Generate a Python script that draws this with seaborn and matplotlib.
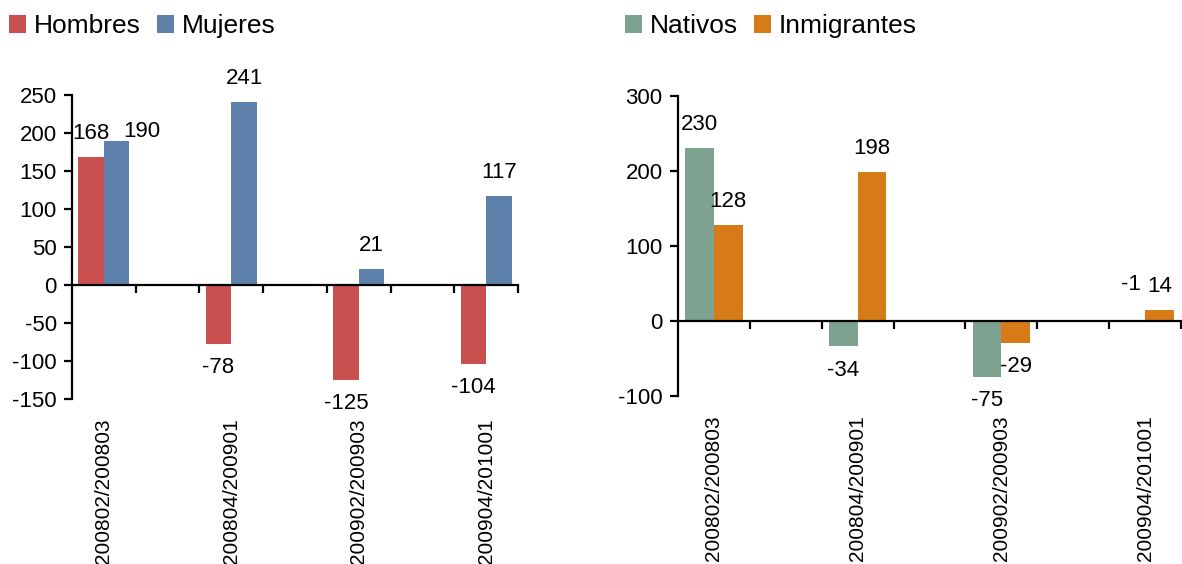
import matplotlib
matplotlib.use("Agg")
import numpy as np
import pandas as pd
import seaborn as sns
from matplotlib import pyplot as plt

# data
periods = ["200802/200803", "200804/200901", "200902/200903", "200904/201001"]
hombres = [168, -78, -125, -104]
mujeres = [190, 241, 21, 117]
nativos = [230, -34, -75, -1]
inmigrantes = [128, 198, -29, 14]

# empty slots between the periods, as in the original workbook
slots = [periods[0], "gap1", periods[1], "gap2", periods[2], "gap3", periods[3]]

sexo = pd.DataFrame(
    {
        "periodo": periods * 2,
        "grupo": ["Hombres"] * 4 + ["Mujeres"] * 4,
        "valor": hombres + mujeres,
    }
)
origen = pd.DataFrame(
    {
        "periodo": periods * 2,
        "grupo": ["Nativos"] * 4 + ["Inmigrantes"] * 4,
        "valor": nativos + inmigrantes,
    }
)

sns.set_theme(style="white")
plt.rcParams["font.family"] = ["Liberation Sans", "DejaVu Sans"]
plt.rcParams["axes.unicode_minus"] = False
plt.rcParams["text.color"] = "black"
plt.rcParams["axes.edgecolor"] = "black"
plt.rcParams["xtick.color"] = "black"
plt.rcParams["ytick.color"] = "black"

FS = 16
FS_CAT = 15

fig = plt.figure(figsize=(11.82, 5.64), dpi=100)
ax1 = fig.add_axes([0.0609, 0.2926, 0.3773, 0.539])
ax2 = fig.add_axes([0.5736, 0.2979, 0.4255, 0.5319])


def draw(ax, df, hue_order, palette, ylim, step, legend_x, nudges):
    sns.barplot(
        data=df,
        x="periodo",
        y="valor",
        hue="grupo",
        order=slots,
        hue_order=hue_order,
        palette=palette,
        errorbar=None,
        width=0.8,
        saturation=1,
        linewidth=0,
        ax=ax,
    )
    ax.set_xlim(-0.5, len(slots) - 0.5)
    ax.set_ylim(*ylim)
    ax.set_yticks(np.arange(ylim[0], ylim[1] + 1, step))
    ax.set_xlabel("")
    ax.set_ylabel("")

    # axis line through zero with ticks between categories
    for side in ("top", "right"):
        ax.spines[side].set_visible(False)
    ax.spines["bottom"].set_position(("data", 0))
    ax.spines["bottom"].set_linewidth(1.6)
    ax.spines["left"].set_linewidth(1.6)
    ax.set_xticks(np.arange(0.5, len(slots), 1), minor=True)
    ax.tick_params(axis="x", which="major", length=0, labelbottom=False)
    ax.tick_params(
        axis="x", which="minor", bottom=True, length=6, width=1.6, direction="out"
    )
    ax.tick_params(
        axis="y", left=True, length=6, width=1.6, direction="out", labelsize=FS, pad=5
    )

    # category labels at the bottom
    sec = ax.secondary_xaxis("bottom")
    sec.set_xticks(
        range(len(slots)),
        labels=[s if not s.startswith("gap") else "" for s in slots],
        rotation=90,
        fontsize=FS_CAT,
    )
    sec.tick_params(length=0, pad=14)
    sec.spines["bottom"].set_visible(False)

    # value labels
    for name, cont in zip(hue_order, ax.containers):
        for i, bar in enumerate(cont):
            h = bar.get_height()
            if np.isnan(h):
                continue
            x = bar.get_x() + bar.get_width() / 2
            dx, dy = nudges.get((name, i), (0, 17 if h >= 0 else -17))
            ax.annotate(
                f"{h:.0f}",
                (x, h),
                xytext=(dx, dy),
                textcoords="offset points",
                ha="center",
                va="center",
                fontsize=FS,
            )

    handles, labels = ax.get_legend_handles_labels()
    ax.legend(
        handles,
        labels,
        loc="upper left",
        bbox_to_anchor=(legend_x, 0.975),
        bbox_transform=fig.transFigure,
        ncol=2,
        frameon=False,
        fontsize=19,
        handlelength=0.65,
        handleheight=0.65,
        handletextpad=0.3,
        columnspacing=0.6,
        borderpad=0,
        borderaxespad=0,
    )


draw(
    ax1,
    sexo,
    ["Hombres", "Mujeres"],
    {"Hombres": "#C9504F", "Mujeres": "#5E81AC"},
    (-150, 250),
    50,
    0.0076,
    {("Mujeres", 0): (18, 6.5)},
)
draw(
    ax2,
    origen,
    ["Nativos", "Inmigrantes"],
    {"Nativos": "#7DA28F", "Inmigrantes": "#D67B17"},
    (-100, 300),
    100,
    0.5287,
    {("Nativos", 3): (0, 26.5)},
)

fig.savefig("out.png", dpi=100)
